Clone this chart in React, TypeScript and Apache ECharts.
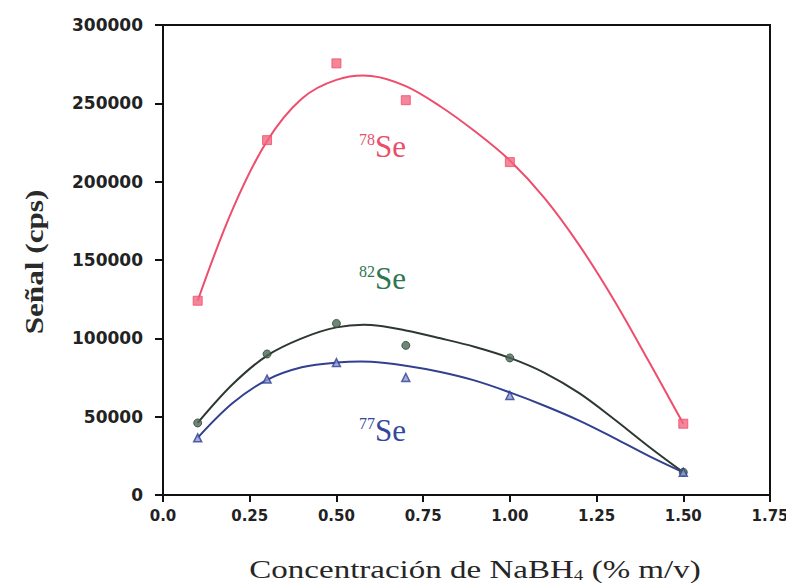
import React, { useEffect, useRef } from "react";
import * as echarts from "echarts";

// Measured points (NaBH4 concentration, % m/v)
const concentrations = [0.1, 0.3, 0.5, 0.7, 1.0, 1.5];
const se78 = [124000, 226500, 275500, 252000, 212500, 45500];
const se82 = [46000, 90000, 109500, 95500, 87500, 14500];
const se77 = [36500, 74000, 84500, 75000, 63500, 14500];

// Fitted curves
const fitX = [0.1, 0.2, 0.3, 0.4, 0.5, 0.6, 0.7, 0.8, 0.9, 1.0, 1.1, 1.2, 1.3, 1.4, 1.5];
const fit78 = [124000, 182000, 226000, 253000, 265000, 267500, 261000, 248000, 232000, 213500, 189500, 159500, 124500, 85500, 45500];
const fit82 = [46000, 70500, 89000, 100000, 107000, 108500, 105000, 100000, 94500, 87500, 78000, 65000, 48500, 31000, 14500];
const fit77 = [36500, 58500, 73500, 81500, 84500, 85000, 82500, 78500, 73000, 65500, 57000, 47500, 36500, 25000, 14500];

const xTicks = { min: 0, max: 1.75, interval: 0.25 };
const yTicks = { min: 0, max: 300000, interval: 50000 };

const xTitle = "Concentración de NaBH";
const xTitleSub = "4";
const xTitleEnd = " (% m/v)";
const yTitle = "Señal (cps)";
const isoLabels = [
  { mass: "78", name: "Se", color: "#e8506a" },
  { mass: "82", name: "Se", color: "#2f7550" },
  { mass: "77", name: "Se", color: "#34479c" },
];

const RED = "#ee4d6c";
const GREEN_LINE = "#2d3832";
const BLUE = "#31408f";

const pairs = (xs: number[], ys: number[]) => xs.map((x, i) => [x, ys[i]]);

export default function App() {
  const ref = useRef<HTMLDivElement>(null);
  useEffect(() => {
    if (!ref.current) return;
    const chart = echarts.init(ref.current, undefined, { renderer: "svg" });
    const labelPos = [
      [359, 146],
      [359, 278],
      [359, 430],
    ];
    // Fitted curve: one smooth polyline through the fit points, placed with the axes' scales
    const fitLine = (ys: number[], color: string) => ({
      type: "custom",
      coordinateSystem: "cartesian2d",
      data: pairs(fitX, ys),
      silent: true,
      z: 2,
      renderItem: (params: any, api: any) => {
        if (params.dataIndex !== 0) return null;
        const pts = fitX.map((x, i) => api.coord([x, ys[i]]));
        return {
          type: "polyline",
          shape: { points: pts, smooth: 0.35 },
          style: { stroke: color, lineWidth: 2, fill: null },
        };
      },
    });
    chart.setOption({
      animation: false,
      backgroundColor: "#ffffff",
      grid: {
        left: 163,
        right: 24,
        top: 25,
        bottom: 88,
        show: true,
        borderColor: "#111",
        borderWidth: 2,
      },
      xAxis: {
        type: "value",
        min: xTicks.min,
        max: xTicks.max,
        interval: xTicks.interval,
        axisLine: { show: true, lineStyle: { color: "#111", width: 2 } },
        axisTick: { show: true, inside: false, length: 7, lineStyle: { color: "#111", width: 2 } },
        splitLine: { show: false },
        axisLabel: {
          margin: 13,
          color: "#222",
          fontFamily: "DejaVu Sans",
          fontWeight: "bold",
          fontSize: 15,
          formatter: (v: number) => (v === 0 ? "0.0" : v.toFixed(2)),
        },
      },
      yAxis: {
        type: "value",
        min: yTicks.min,
        max: yTicks.max,
        interval: yTicks.interval,
        axisLine: { show: true, lineStyle: { color: "#111", width: 2 } },
        axisTick: { show: true, inside: false, length: 8, lineStyle: { color: "#111", width: 2 } },
        splitLine: { show: false },
        axisLabel: {
          margin: 20,
          color: "#222",
          fontFamily: "DejaVu Sans",
          fontWeight: "bold",
          fontSize: 17,
          formatter: (v: number) => String(v),
        },
      },
      series: [
        fitLine(fit78, RED),
        fitLine(fit82, GREEN_LINE),
        fitLine(fit77, BLUE),
        {
          type: "scatter",
          data: pairs(concentrations, se78),
          symbol: "rect",
          symbolSize: 9,
          itemStyle: { color: "#f26680", borderColor: RED, borderWidth: 1 },
          z: 3,
        },
        {
          type: "scatter",
          data: pairs(concentrations, se82),
          symbol: "circle",
          symbolSize: 8,
          itemStyle: { color: "#4a6854", borderColor: "#2d4235", borderWidth: 1 },
          z: 3,
        },
        {
          type: "scatter",
          data: pairs(concentrations, se77),
          symbol: "triangle",
          symbolSize: 8,
          itemStyle: { color: "#8f9ad8", borderColor: BLUE, borderWidth: 1.5 },
          z: 4,
        },
      ],
      graphic: [
        ...isoLabels.map((l, i) => ({
          type: "text",
          x: labelPos[i][0],
          y: labelPos[i][1],
          style: {
            text: `{m|${l.mass}}{s|${l.name}}`,
            fill: l.color,
            textAlign: "left",
            textVerticalAlign: "middle",
            rich: {
              m: { fontFamily: "Liberation Serif", fontSize: 16, fill: l.color, verticalAlign: "top", lineHeight: 30 },
              s: { fontFamily: "Liberation Serif", fontSize: 31, fill: l.color, lineHeight: 30 },
            },
          },
        })),
        {
          type: "text",
          x: 475,
          y: 569,
          scaleX: 1.27,
          style: {
            text: `{a|${xTitle}}{b|${xTitleSub}}{a|${xTitleEnd}}`,
            fill: "#262626",
            textAlign: "center",
            textVerticalAlign: "middle",
            rich: {
              a: { fontFamily: "Liberation Serif", fontSize: 26, fill: "#262626", lineHeight: 28 },
              b: { fontFamily: "Liberation Serif", fontSize: 15, fill: "#262626", verticalAlign: "bottom", lineHeight: 28 },
            },
          },
        },
        {
          type: "text",
          x: 34,
          y: 262,
          rotation: Math.PI / 2,
          scaleX: 1.2,
          style: {
            text: yTitle,
            fill: "#2a2a2a",
            font: "bold 26px 'Liberation Serif'",
            textAlign: "center",
            textVerticalAlign: "middle",
          },
        },
      ],
    });
    return () => chart.dispose();
  }, []);
  return <div ref={ref} style={{ width: 794, height: 583, marginLeft: -8, marginTop: -8 }} />;
}
